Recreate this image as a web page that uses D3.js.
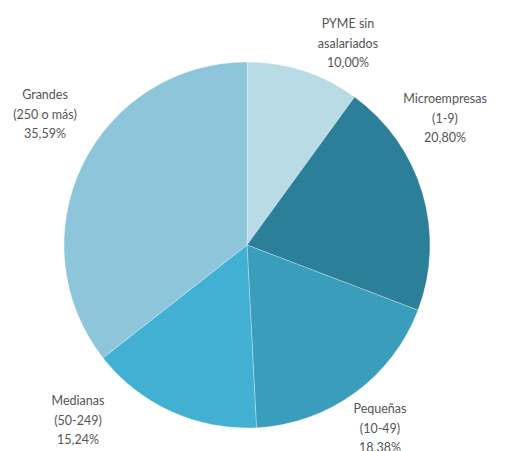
<!DOCTYPE html>
<html><head><meta charset="utf-8">
<script src="https://cdn.jsdelivr.net/npm/d3@7"></script>
<style>html,body{margin:0;padding:0;background:#fff;}</style>
</head><body>
<svg id="chart" width="505" height="451"></svg>
<script>
const categories = ["PYME sin asalariados", "Microempresas (1-9)", "Pequeñas (10-49)", "Medianas (50-249)", "Grandes (250 o más)"];
const values = [10.00, 20.80, 18.38, 15.24, 35.59];
const labelLines = [["PYME sin", "asalariados"], ["Microempresas", "(1-9)"], ["Pequeñas", "(10-49)"], ["Medianas", "(50-249)"], ["Grandes", "(250 o más)"]];
const colors = ["#b9dbe6", "#2c7f99", "#3b9dbc", "#41b0d2", "#8dc6da"];
const labelPos = [[348, 28], [445, 103], [380, 413], [78, 405], [45, 99]];

const svg = d3.select("#chart");
const cx = 247, cy = 245, r = 183;
const g = svg.append("g").attr("transform", `translate(${cx},${cy})`);

const pie = d3.pie().sort(null).value(d => d);
const arc = d3.arc().innerRadius(0).outerRadius(r);
const arcs = pie(values);

g.selectAll("path.slice").data(arcs).enter().append("path")
  .attr("class", "slice")
  .attr("d", arc)
  .attr("fill", (d, i) => colors[i])
  .attr("stroke", "rgba(255,255,255,0.35)")
  .attr("stroke-width", 0.8);

const fmt = v => v.toFixed(2).replace(".", ",") + "%";
const lh = 19.5;
labelLines.forEach((lines, i) => {
  const t = svg.append("text")
    .attr("x", labelPos[i][0]).attr("y", labelPos[i][1])
    .attr("text-anchor", "middle")
    .attr("font-family", "Lato, 'Open Sans', sans-serif")
    .attr("font-size", "12.5px")
    .attr("fill", "#555");
  [...lines, fmt(values[i])].forEach((s, k) => {
    t.append("tspan").attr("x", labelPos[i][0]).attr("dy", k === 0 ? 0 : lh).text(s);
  });
});
</script>
</body></html>
